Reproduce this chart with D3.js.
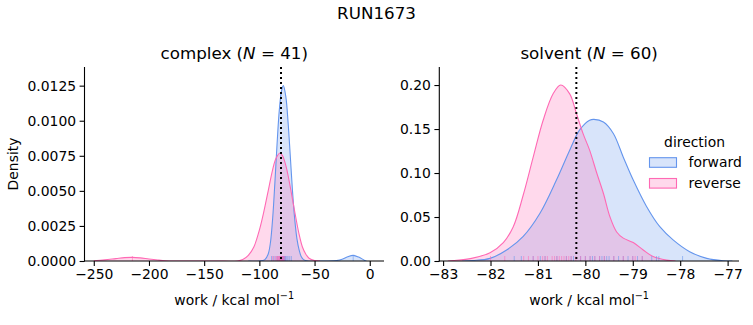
<!DOCTYPE html>
<html><head><meta charset="utf-8">
<script src="https://cdn.jsdelivr.net/npm/d3@7"></script>
<style>
body{margin:0;background:#fff;}
svg{font-family:"DejaVu Sans",sans-serif;}
</style></head>
<body><svg id="chart" width="753" height="325"></svg>
<script>
// ---------------- data ----------------
const suptitle = "RUN1673";
const directions = ["forward", "reverse"];
const colors = ["#6495ED", "#FF69B4"];

// complex panel: KDE curves [work, density]
const complexForwardX = [-110,-100,-95,-92,-90,-88,-86,-84,-82,-80,-78.3,-76,-74,-72,-70,-68,-66,-64,-62,-60,-56,-40,-30,-25,-20,-15,-10,-5,-3];
const complexForwardY = [0,0,0.0001,0.0005,0.0013,0.0030,0.0055,0.0083,0.0107,0.0121,0.0125,0.0117,0.0099,0.0075,0.0050,0.0030,0.0016,0.0008,0.0003,0.0001,0,0,0.00003,0.00012,0.00030,0.00040,0.00028,0.00006,0];
const complexReverseX = [-250,-240,-230,-222,-215,-208,-200,-192,-185,-178,-140,-120,-115,-110,-105,-100,-96,-92,-88,-85,-81.3,-79,-76,-73,-70,-67,-64,-61,-58,-55,-50,-45];
const complexReverseY = [0.00002,0.00008,0.00017,0.00024,0.00026,0.00022,0.00014,0.00007,0.00002,0,0,0,0.0001,0.0004,0.0010,0.0022,0.0035,0.0050,0.0065,0.0073,0.0077,0.0075,0.0068,0.0057,0.0044,0.0031,0.0019,0.0010,0.0005,0.0002,0.00003,0];
const complexForwardRug = [-89,-87,-85,-83.5,-82,-81,-80,-79.5,-79,-78.5,-78,-77.5,-77,-76.5,-76,-75,-74,-72.5,-71,-15];
const complexReverseRug = [-215,-88,-86,-84.5,-83.5,-83,-82.5,-82,-81.5,-81,-80.5,-80,-79.5,-79,-78.5,-78,-77];
const complexRef = -80.4;

// solvent panel
const solventForwardX = [-82.6,-82.37,-82.01,-81.66,-81.31,-80.96,-80.61,-80.33,-80.12,-79.91,-79.82,-79.62,-79.41,-79.20,-78.99,-78.71,-78.43,-78.15,-77.80,-77.44,-77.09,-76.9];
const solventForwardY = [0,0.0005,0.003,0.0125,0.028,0.054,0.092,0.126,0.149,0.160,0.161,0.158,0.145,0.118,0.092,0.062,0.039,0.024,0.0106,0.003,0.0003,0];
const solventReverseX = [-82.9,-82.79,-82.4,-82.01,-81.73,-81.52,-81.31,-81.10,-80.89,-80.68,-80.52,-80.33,-80.19,-80.05,-79.91,-79.76,-79.62,-79.48,-79.34,-79.20,-78.99,-78.78,-78.57,-78.29,-78.1];
const solventReverseY = [0,0.0005,0.003,0.0095,0.021,0.039,0.075,0.118,0.160,0.190,0.200,0.190,0.168,0.145,0.126,0.100,0.077,0.050,0.033,0.026,0.021,0.0125,0.005,0.001,0];
const solventForwardRug = [-81.5,-81.35,-81.1,-80.95,-80.85,-80.6,-80.4,-80.3,-80.25,-80.1,-80.0,-79.9,-79.85,-79.8,-79.7,-79.65,-79.6,-79.55,-79.5,-79.4,-79.3,-79.2,-79.1,-79.0,-78.9,-78.8,-78.6,-78.5,-78.45,-77.95];
const solventReverseRug = [-82.0,-81.7,-81.3,-81.2,-81.1,-81.0,-80.9,-80.85,-80.8,-80.7,-80.65,-80.6,-80.55,-80.5,-80.45,-80.4,-80.35,-80.3,-80.2,-80.1,-80.0,-79.9,-79.8,-79.7,-79.6,-79.4,-79.2,-79.0,-78.95,-78.8];
const solventRef = -80.19;

const complexXTicks = [-250,-200,-150,-100,-50,0];
const complexYTicks = [0,0.0025,0.005,0.0075,0.01,0.0125];
const solventXTicks = [-83,-82,-81,-80,-79,-78,-77];
const solventYTicks = [0,0.05,0.10,0.15,0.20];

// ---------------- drawing ----------------
const svg = d3.select("#chart");
const minus = s => s.replace(/-/g, "\u2212");

svg.append("text").attr("x", 376.5).attr("y", 19).attr("text-anchor", "middle")
  .attr("font-size", 16.7).attr("fill", "#000").text(suptitle);

function panel(opt) {
  const x = d3.scaleLinear().domain(opt.xDomain).range([opt.left, opt.right]);
  const y = d3.scaleLinear().domain(opt.yDomain).range([261, 67]);
  const g = svg.append("g");
  const clipId = "clip" + opt.name;
  svg.append("clipPath").attr("id", clipId).append("rect")
    .attr("x", opt.left).attr("y", 67).attr("width", opt.right - opt.left).attr("height", 194);

  const plot = g.append("g").attr("clip-path", `url(#${clipId})`);
  const curve = d3.curveCatmullRom.alpha(0.5);
  const area = d3.area().x(d => x(d[0])).y0(y(0)).y1(d => y(d[1])).curve(curve);
  const line = d3.line().x(d => x(d[0])).y(d => y(d[1])).curve(curve);
  opt.series.forEach((s, i) => {
    const pts = s.xs.map((v, k) => [v, s.ys[k]]);
    plot.append("path").attr("d", area(pts)).attr("fill", colors[i]).attr("fill-opacity", 0.25);
  });
  opt.series.forEach((s, i) => {
    const pts = s.xs.map((v, k) => [v, s.ys[k]]);
    plot.append("path").attr("d", line(pts)).attr("fill", "none").attr("stroke", colors[i]).attr("stroke-width", 1.1);
  });
  opt.series.forEach((s, i) => {
    plot.selectAll(null).data(s.rug).enter().append("line")
      .attr("x1", d => x(d)).attr("x2", d => x(d))
      .attr("y1", 261).attr("y2", 261 - 5)
      .attr("stroke", colors[i]).attr("stroke-opacity", 0.55).attr("stroke-width", 1);
  });
  // reference dotted line
  plot.append("line").attr("x1", x(opt.ref)).attr("x2", x(opt.ref)).attr("y1", 67).attr("y2", 261)
    .attr("stroke", "#000").attr("stroke-width", 2).attr("stroke-dasharray", "2,3");

  // axes
  const xAxis = d3.axisBottom(x).tickValues(opt.xTicks).tickSize(4.9).tickPadding(3.5)
    .tickFormat(d => minus(String(d)));
  const yAxis = d3.axisLeft(y).tickValues(opt.yTicks).tickSize(4.9).tickPadding(3.5)
    .tickFormat(d => d3.format(opt.yFmt)(d));
  const gx = g.append("g").attr("transform", "translate(0,261)").call(xAxis);
  const gy = g.append("g").attr("transform", `translate(${opt.left},0)`).call(yAxis);
  [gx, gy].forEach(a => {
    a.select(".domain").remove();
    a.selectAll("line").attr("stroke", "#000").attr("stroke-width", 1.1);
    a.selectAll("text").attr("font-size", 13.9).attr("fill", "#000").attr("font-family", "DejaVu Sans");
  });
  gy.selectAll("text").attr("dy", "0.32em");
  // spines
  g.append("line").attr("x1", opt.left).attr("x2", opt.left).attr("y1", 67).attr("y2", 261.5)
    .attr("stroke", "#000").attr("stroke-width", 1.1);
  g.append("line").attr("x1", opt.left - 0.5).attr("x2", opt.right).attr("y1", 261).attr("y2", 261)
    .attr("stroke", "#000").attr("stroke-width", 1.1);

  // title
  const cx = (opt.left + opt.right) / 2;
  const t = g.append("text").attr("x", cx).attr("y", 59).attr("text-anchor", "middle")
    .attr("font-size", 16.7).attr("fill", "#000");
  t.append("tspan").text(opt.name + " (");
  t.append("tspan").attr("font-style", "italic").text("N");
  t.append("tspan").text(" = " + opt.n + ")");

  // x label
  const xl = g.append("text").attr("x", cx).attr("y", 305).attr("text-anchor", "middle")
    .attr("font-size", 13.9).attr("fill", "#000");
  xl.append("tspan").text("work / kcal mol");
  xl.append("tspan").attr("dy", -6).attr("font-size", 9.7).text("\u22121");
  return {x, y};
}

panel({
  name: "complex", n: 41, left: 84.5, right: 384,
  xDomain: [-258.4, 12.9], yDomain: [0, 0.01383],
  xTicks: complexXTicks, yTicks: complexYTicks, yFmt: ".4f",
  ref: complexRef,
  series: [
    {xs: complexForwardX, ys: complexForwardY, rug: complexForwardRug},
    {xs: complexReverseX, ys: complexReverseY, rug: complexReverseRug}
  ]
});
panel({
  name: "solvent", n: 60, left: 439.3, right: 739,
  xDomain: [-83.08, -76.76], yDomain: [0, 0.2205],
  xTicks: solventXTicks, yTicks: solventYTicks, yFmt: ".2f",
  ref: solventRef,
  series: [
    {xs: solventForwardX, ys: solventForwardY, rug: solventForwardRug},
    {xs: solventReverseX, ys: solventReverseY, rug: solventReverseRug}
  ]
});

// y label
svg.append("text").attr("transform", "translate(18,164) rotate(-90)").attr("text-anchor", "middle")
  .attr("font-size", 13.9).attr("fill", "#000").text("Density");

// legend
const lg = svg.append("g");
lg.append("text").attr("x", 694.5).attr("y", 146.5).attr("text-anchor", "middle")
  .attr("font-size", 13.9).attr("fill", "#000").text("direction");
directions.forEach((d, i) => {
  const yy = 157.7 + i * 20.8;
  lg.append("rect").attr("x", 649.5).attr("y", yy).attr("width", 27).attr("height", 9.6)
    .attr("fill", colors[i]).attr("fill-opacity", 0.25).attr("stroke", colors[i]).attr("stroke-width", 1.1);
  lg.append("text").attr("x", 688.5).attr("y", yy + 9.2).attr("font-size", 13.9).attr("fill", "#000").text(d);
});
</script>
</body></html>
